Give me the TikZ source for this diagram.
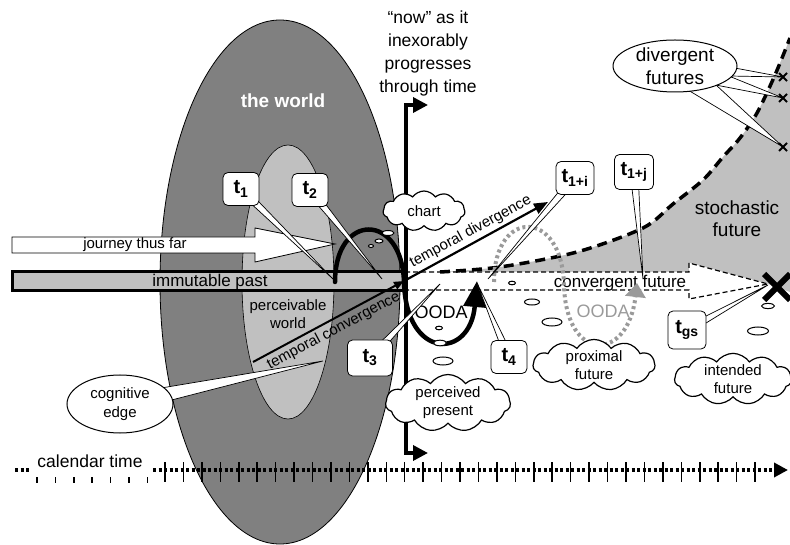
\documentclass[tikz,border=0pt]{standalone}
\usepackage{fontspec}
\setmainfont{Liberation Sans}
\usetikzlibrary{arrows.meta,calc,positioning,shapes.geometric,shapes.symbols}

\definecolor{worldgray}{HTML}{808080}
\definecolor{percgray}{HTML}{C0C0C0}
\definecolor{oodagray}{HTML}{9A9A9A}

\tikzset{
  tbox/.style={draw, fill=white, rounded corners=5pt, line width=0.8pt,
    minimum width=36pt, minimum height=33pt, inner sep=1pt,
    font=\bfseries\fontsize{20}{20}\selectfont},
  thought/.style={draw, fill=white, cloud, cloud puffs=11, cloud puff arc=110,
    cloud ignores aspect, inner sep=0pt, line width=1.2pt, align=center,
    font=\fontsize{15}{18}\selectfont},
  balloon/.style={draw, fill=white, line width=1pt},
  wedge/.style={draw, fill=white, line width=0.7pt},
  bubble/.style={draw, fill=white, line width=1pt},
  calendar/.style={line width=4pt, dash pattern=on 3pt off 2.5pt},
  tick/.style={line width=1.5pt},
}

\begin{document}
\begin{tikzpicture}[x=1pt, y=-1pt]
\useasboundingbox (0,0) rectangle (790,545);

% the world and the perceivable world
\filldraw[fill=worldgray, line width=0.8pt] (280,282) ellipse [x radius=120pt, y radius=262pt];
\filldraw[fill=percgray, line width=0.6pt] (288,282) ellipse [x radius=46pt, y radius=137pt];
\node[text=white, font=\bfseries\fontsize{19}{19}\selectfont] (world) at (283,101) {the world};
\node[align=center, font=\fontsize{15}{18}\selectfont] (perc) at (288,314) {perceivable\\world};

% stochastic future
\fill[percgray] plot[smooth] coordinates {(440,272) (500,267) (577,252) (643,228) (673,204) (703,180)
  (723,157) (740,138) (757,113) (775,75) (790,38)} -- (790,292) -- (768,284) -- (689,263) -- (689,272) -- cycle;

% journey and past
\filldraw[fill=white, line width=0.8pt] (12,237) -- (255,237) -- (255,228) -- (335,244)
  -- (255,262) -- (255,253) -- (12,253) -- cycle;
\node[font=\fontsize{15}{15}\selectfont] (journey) at (135,245) {journey thus far};
\filldraw[fill=percgray, line width=3pt] (12,272) rectangle (405,291);
\node[font=\fontsize{17}{17}\selectfont] (past) at (210,282) {immutable past};

% convergent future
\filldraw[fill=white, line width=1.2pt, dash pattern=on 5pt off 3pt] (405,272) -- (689,272) -- (689,263)
  -- (768,284) -- (689,299) -- (689,290) -- (405,290);
\node[font=\fontsize{17}{17}\selectfont] (conv) at (620,283) {convergent future};
\draw[line width=3.5pt, dash pattern=on 10pt off 6pt] plot[smooth] coordinates {(440,272) (500,267)
  (577,252) (643,228) (673,204) (703,180) (723,157) (740,138) (757,113) (775,75) (790,38)};
\node[align=center, font=\fontsize{19}{22}\selectfont] (stoch) at (737,219) {stochastic\\future};

% temporal arrows
\coordinate (now) at (404,281);
\coordinate (div) at (548,202);
\coordinate (cog) at (253,362);
\draw[line width=2pt, -{Triangle[length=10pt,width=8pt]}] (cog) -- node[sloped, below, inner sep=3pt,
  font=\fontsize{15}{15}\selectfont] {temporal convergence} (now);
\draw[line width=2.2pt, -{Triangle[length=14pt,width=11pt]}] (now) -- node[sloped, above, inner sep=3pt,
  font=\fontsize{15}{15}\selectfont] {temporal divergence} (div);

% now
\draw[line width=3.5pt, {Triangle[length=15pt,width=15pt]}-{Triangle[length=15pt,width=15pt]}]
  (428,105) -- (406,105) -- (406,453) -- (428,453);
\node[align=center, font=\fontsize{17.5}{23}\selectfont] (nowtxt) at (428,53)
  {“now” as it\\inexorably\\progresses\\through time};

% OODA loops
\draw[line width=4.5pt, line cap=round, -{Triangle[length=26pt,width=22pt]}] (335,282)
  .. controls (335,212) and (402,212) .. (404,282) .. controls (406,360) and (470,360) .. (477,281);
\node[font=\fontsize{18}{18}\selectfont] (ooda) at (441,312) {OODA};
\draw[oodagray, line width=4pt, dash pattern=on 3pt off 3pt, -{Triangle[length=14pt,width=20pt]}] (494,282)
  .. controls (494,208) and (562,208) .. (564,285) .. controls (566,363) and (628,363) .. (637,283);
\node[text=oodagray, font=\fontsize{18}{18}\selectfont] (oodb) at (603,311) {OODA};

% callouts
\coordinate (b1) at (241,189);  \coordinate (p1) at (333,279);
\coordinate (b2) at (310,190);  \coordinate (p2) at (382,279);
\coordinate (b3) at (370,358);  \coordinate (p3) at (440,284);
\coordinate (b4) at (509,357);  \coordinate (p4) at (477,283);
\coordinate (bi) at (575,178);  \coordinate (pi) at (488,279);
\coordinate (bj) at (634,172);  \coordinate (pj) at (643,279);
\coordinate (bg) at (687,330);  \coordinate (pg) at (768,285);
\foreach \bx/\tip in {b1/p1, b2/p2, b3/p3, b4/p4, bi/pi, bj/pj, bg/pg}
  \filldraw[wedge] ($(\bx)!4pt!90:(\tip)$) -- (\tip) -- ($(\bx)!4pt!-90:(\tip)$);
\node[tbox] (t1) at (b1) {t\textsubscript{1}};
\node[tbox] (t2) at (b2) {t\textsubscript{2}};
\node[tbox, minimum width=45pt, minimum height=36pt] (t3) at (b3) {t\textsubscript{3}};
\node[tbox] (t4) at (b4) {t\textsubscript{4}};
\node[tbox, minimum width=38pt] (t1i) at (bi) {t\textsubscript{1+i}};
\node[tbox, minimum width=39pt, minimum height=35pt] (t1j) at (bj) {t\textsubscript{1+j}};
\node[tbox, minimum width=38pt, minimum height=38pt] (tgs) at (bg) {t\textsubscript{gs}};

\coordinate (ce) at (120,404);  \coordinate (pc) at (323,361);
\filldraw[wedge] ($(ce)!9pt!90:(pc)$) -- (pc) -- ($(ce)!9pt!-90:(pc)$);
\filldraw[balloon] (ce) ellipse [x radius=53pt, y radius=29pt];
\node[align=center, font=\fontsize{15}{19}\selectfont] (cogn) at (ce) {cognitive\\edge};

\coordinate (cd) at (675,66);
\coordinate (x1) at (783,77);
\coordinate (x2) at (783,98);
\coordinate (x3) at (783,147);
\foreach \tip/\w in {x1/9pt, x2/11pt, x3/14pt}
  \filldraw[wedge] ($(cd)!\w!90:(\tip)$) -- (\tip) -- ($(cd)!\w!-90:(\tip)$);
\filldraw[balloon] (cd) ellipse [x radius=62pt, y radius=26pt];
\node[align=center, font=\fontsize{19}{23}\selectfont] (divf) at (cd) {divergent\\futures};
\foreach \p in {x1, x2, x3}
  \draw[line width=2pt] ($(\p)+(-4,-4)$) -- ($(\p)+(4,4)$) ($(\p)+(-4,4)$) -- ($(\p)+(4,-4)$);

% thoughts
\node[thought, minimum width=82pt, minimum height=40pt] (chart) at (424,211) {chart};
\node[thought, minimum width=125pt, minimum height=57pt] (present) at (448,403) {perceived\\present};
\node[thought, minimum width=122pt, minimum height=50pt] (proximal) at (594,365) {proximal\\future};
\node[thought, minimum width=117pt, minimum height=48pt] (intended) at (733,379) {intended\\future};
\foreach \x/\y/\rx/\ry in {388/233/6/2.5, 379/241/4/2, 371/246/2.5/1.5, 439/328/3.5/1.8, 440/343/6.5/2.8,
  443/361/10/4, 512/283/3.5/1.8, 532/302/7.5/3, 552/322/10/4, 768/306/6.5/2.6, 758/331/10.5/4}
  \draw[bubble] (\x,\y) ellipse [x radius=\rx pt, y radius=\ry pt];

% goal
\draw[line width=6pt] (764,274) -- (790,300) (764,300) -- (790,274);

% calendar time
\draw[calendar] (15,470) -- (30,470);
\node[font=\fontsize{17.5}{17.5}\selectfont] (cal) at (90,461) {calendar time};
\foreach \i in {0,...,6} \draw[tick] (37+\i*18.4,477) -- ++(0,6);
\draw[calendar, -{Triangle[length=14pt,width=14pt]}] (153,470) -- (788,470);
\foreach \i in {0,...,32} \draw[tick] (165+\i*18.44,462) -- ++(0,20);
\end{tikzpicture}
\end{document}
